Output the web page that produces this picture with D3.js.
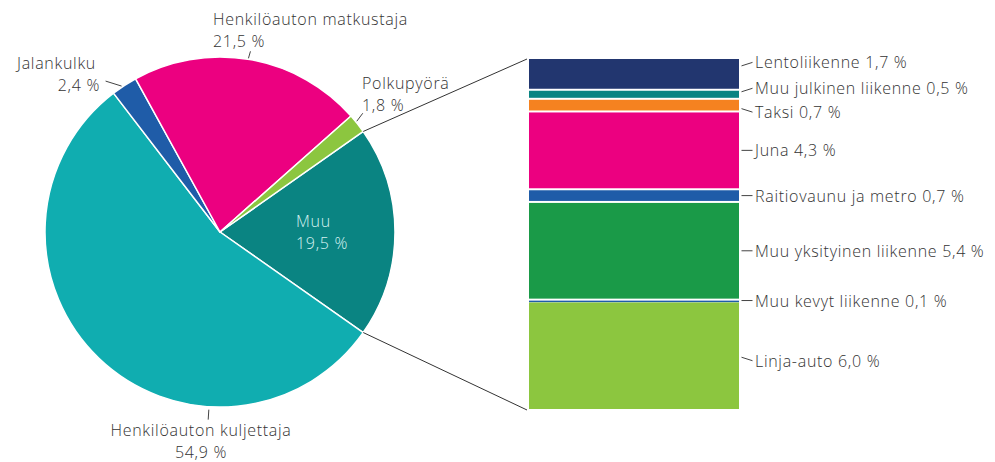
<!DOCTYPE html>
<html><head><meta charset="utf-8">
<script src="https://cdn.jsdelivr.net/npm/d3@7"></script>
<style>
html,body{margin:0;padding:0;background:#fff;}
text{font-family:"Open Sans","Noto Sans",sans-serif;font-size:16px;font-weight:300;letter-spacing:0.7px;fill:#333;}
</style></head>
<body>
<svg id="c" width="995" height="462"></svg>
<script>
// ---- data ----
const pieCategories = ["Muu", "Henkilöauton kuljettaja", "Jalankulku", "Henkilöauton matkustaja", "Polkupyörä"];
const pieValues = [19.5, 54.9, 2.4, 21.5, 1.8];
const pieValueLabels = ["19,5 %", "54,9 %", "2,4 %", "21,5 %", "1,8 %"];
const pieColors = ["#0a8482", "#10adb0", "#1f5ca8", "#ec0080", "#8cc63f"];

const barCategories = ["Lentoliikenne", "Muu julkinen liikenne", "Taksi", "Juna", "Raitiovaunu ja metro", "Muu yksityinen liikenne", "Muu kevyt liikenne", "Linja-auto"];
const barValues = [1.7, 0.5, 0.7, 4.3, 0.7, 5.4, 0.1, 6.0];
const barValueLabels = ["1,7 %", "0,5 %", "0,7 %", "4,3 %", "0,7 %", "5,4 %", "0,1 %", "6,0 %"];
const barColors = ["#22366f", "#0a8482", "#f58220", "#ec0080", "#1f5ca8", "#1a9a48", "#1f5ca8", "#8cc63f"];

// ---- layout ----
const svg = d3.select("#c");
const cx = 220, cy = 232, R = 175;
const total = d3.sum(pieValues);
const start = Math.PI / 2 - (pieValues[0] / total) * Math.PI;

const pie = d3.pie().sort(null).value(d => d).startAngle(start).endAngle(start + 2 * Math.PI);
const arcs = pie(pieValues);
const arc = d3.arc().innerRadius(0).outerRadius(R);

const g = svg.append("g").attr("transform", `translate(${cx},${cy})`);
g.selectAll("path").data(arcs).join("path")
  .attr("d", arc)
  .attr("fill", (d, i) => pieColors[i])
  .attr("stroke", "#fff").attr("stroke-width", 1.5).attr("stroke-linejoin", "round");

// bar
const bx0 = 529, bx1 = 739, by0 = 59, by1 = 410;
const y = d3.scaleLinear().domain([0, d3.sum(barValues)]).range([by0, by1]);
const cum = [];
barValues.reduce((a, v, i) => { cum[i] = a; return a + v; }, 0);

// connector lines
const pt = a => [cx + R * Math.sin(a), cy - R * Math.cos(a)];
const pA = pt(arcs[0].startAngle), pB = pt(arcs[0].endAngle);
svg.append("line").attr("x1", pA[0]).attr("y1", pA[1]).attr("x2", bx0 - 2).attr("y2", y(0))
  .attr("stroke", "#333").attr("stroke-width", 1);
svg.append("line").attr("x1", pB[0]).attr("y1", pB[1]).attr("x2", bx0 - 2).attr("y2", y(d3.sum(barValues)))
  .attr("stroke", "#333").attr("stroke-width", 1);

svg.selectAll("rect.seg").data(barValues).join("rect").attr("class", "seg")
  .attr("x", bx0).attr("width", bx1 - bx0)
  .attr("y", (d, i) => y(cum[i]) + (i === 0 ? 0 : 1))
  .attr("height", (d, i) => Math.max(1.6, y(cum[i] + d) - y(cum[i]) - (i === 0 ? 1 : 2)))
  .attr("fill", (d, i) => barColors[i]);

// bar labels (label center offsets from segment center)
const barLabelShift = [-12, -6, 7, 0, 0, 0, 0, 5];
barValues.forEach((v, i) => {
  const c = (y(cum[i]) + y(cum[i] + v)) / 2;
  const ly = c + barLabelShift[i];
  const s = barLabelShift[i];
  const y1 = s === 0 ? ly : ly - Math.sign(s) * 3.5;
  svg.append("line").attr("x1", 741.5).attr("y1", y1).attr("x2", 752.5).attr("y2", ly)
    .attr("stroke", "#444").attr("stroke-width", 1);
  svg.append("text").attr("x", 755).attr("y", ly + 6)
    .text(barCategories[i] + " " + barValueLabels[i]);
});

// pie labels
const pieLabelLayout = [
  {x: 296, y: 227, anchor: "start", inside: true},
  {x: 201, y: 436, anchor: "middle", tickA: 183.6, tick: [[0, 3], [0, 13]]},
  {x: 98, y: 69, anchor: "end", tickA: 326, tick: [[0, 1], [-16, -5]]},
  {x: 213, y: 25, anchor: "start", tickA: 9.3, tick: [[0, 1], [2, -7]]},
  {x: 362, y: 89, anchor: "start", tickA: 51, tick: [[0, 1], [6, -8]]}
];
pieCategories.forEach((name, i) => {
  const L = pieLabelLayout[i];
  if (L.tickA !== undefined) {
    const a = L.tickA * Math.PI / 180;
    const ex = cx + (R + L.tick[0][1]) * Math.sin(a), ey = cy - (R + L.tick[0][1]) * Math.cos(a);
    let x2, y2;
    if (i === 1) { x2 = cx + (R + L.tick[1][1]) * Math.sin(a); y2 = cy - (R + L.tick[1][1]) * Math.cos(a); }
    else { x2 = ex + L.tick[1][0]; y2 = ey + L.tick[1][1]; }
    svg.append("line").attr("x1", ex).attr("y1", ey).attr("x2", x2).attr("y2", y2)
      .attr("stroke", "#444").attr("stroke-width", 1);
  }
  const t = svg.append("text").attr("text-anchor", L.anchor);
  if (L.inside) t.style("fill", "#d6f2f1");
  t.append("tspan").attr("x", i === 2 ? 96 : L.x).attr("y", L.y).text(name);
  t.append("tspan").attr("x", i === 2 ? 100 : L.x).attr("y", L.y + 22).text(pieValueLabels[i]);
});
</script>
</body></html>
